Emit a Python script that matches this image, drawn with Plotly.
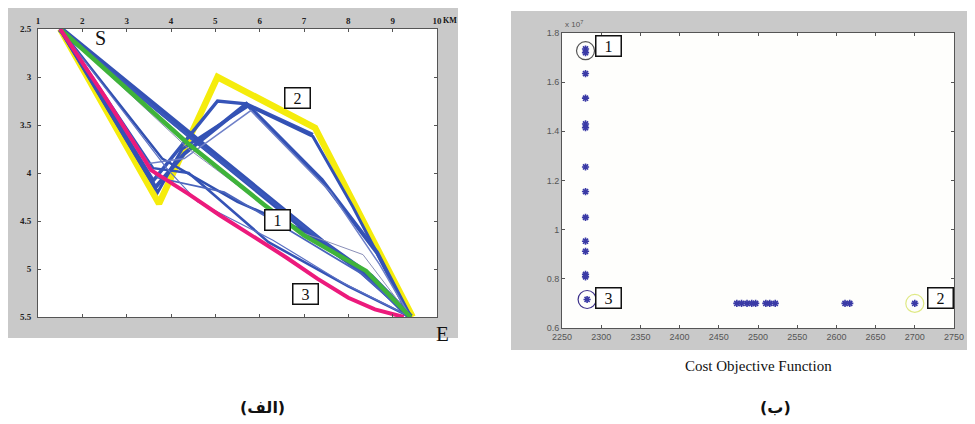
import plotly.graph_objects as go

# The page body has an 8px margin, so the figure is sized to the remaining viewport
OFF = 8
W, H = 975 - OFF, 424 - OFF

# ---------------- Panel (الف): route lines (x in KM, depth-like y) ----------------
yellow_x = [1.5, 3.73, 5.05, 7.25, 9.45]
yellow_y = [2.5, 4.32, 3.0, 3.53, 5.5]

green_x = [1.5, 4.4, 6.1, 7.0, 8.4, 9.4]
green_y = [2.5, 3.7, 4.33, 4.65, 5.02, 5.5]

magenta_x = [1.5, 2.5, 3.55, 4.4, 5.1, 5.85, 6.6, 7.3, 8.0, 8.6, 9.25]
magenta_y = [2.5, 3.2, 3.97, 4.22, 4.44, 4.66, 4.88, 5.1, 5.3, 5.42, 5.5]

blue_paths = [
    # (x list, y list, width)
    ([1.5, 4.3, 6.2, 7.4, 8.5, 9.4], [2.5, 3.55, 4.28, 4.72, 5.08, 5.5], 6.5),
    ([1.5, 4.35, 6.5, 8.0, 9.4], [2.5, 3.6, 4.38, 4.92, 5.5], 3.0),
    ([1.5, 3.8, 5.5, 6.9, 8.3, 9.4], [2.5, 3.85, 4.3, 4.58, 5.0, 5.5], 2.5),
    ([1.5, 3.6, 4.4, 6.2, 6.9, 8.0, 9.4], [2.5, 3.95, 4.0, 4.72, 4.9, 5.18, 5.5], 2.5),
    ([1.5, 3.6, 5.05, 5.7, 7.2], [2.5, 4.08, 3.25, 3.28, 3.6], 3.5),
    ([1.5, 3.7, 4.25, 5.75, 7.2, 8.1, 9.4], [2.5, 4.2, 3.75, 3.3, 3.62, 4.35, 5.5], 3.0),
    ([1.5, 3.65, 4.3, 5.7, 7.4, 8.65, 9.4], [2.5, 4.15, 3.8, 3.28, 4.07, 4.83, 5.5], 4.0),
    ([1.5, 3.5, 4.3, 5.8, 7.6, 8.7, 9.4], [2.5, 3.9, 3.85, 3.35, 4.2, 4.95, 5.5], 1.5),
    ([1.5, 3.7, 5.2, 6.5, 8.3, 9.4], [2.5, 4.05, 4.2, 4.55, 5.05, 5.5], 1.8),
    ([1.5, 4.4, 6.9, 8.33, 9.4], [2.5, 3.75, 4.61, 4.85, 5.5], 1.0),
    ([1.5, 3.9, 4.6, 6.3, 7.9, 9.4], [2.5, 3.95, 4.3, 4.7, 5.15, 5.5], 1.2),
]
blue_colors = ["#3452b4", "#3a58bb", "#3150b0", "#3553b6", "#3654b8", "#3351b4",
               "#3452b5", "#6f80c8", "#4a64bd", "#8a8fb8", "#5a70c4"]

# ---------------- Panel (ب): Pareto points ----------------
col_x = [2280, 2280, 2280, 2280, 2280, 2280, 2280, 2280, 2280, 2280, 2280, 2280, 2280, 2282]
col_y = [1.735, 1.72, 1.635, 1.535, 1.43, 1.415, 1.255, 1.155, 1.05, 0.953, 0.912, 0.818, 0.808, 0.716]
row_x = [2473, 2479, 2486, 2492, 2497, 2510, 2515, 2522, 2611, 2617, 2700]
row_y = [0.70] * 11

circ_x = [2280, 2282, 2700]
circ_y = [1.728, 0.716, 0.70]
circ_colors = ["#555555", "#3b2f8a", "#dfe985"]

left_xticks = [1, 2, 3, 4, 5, 6, 7, 8, 9, 10]
left_xlabels = ["1", "2", "3", "4", "5", "6", "7", "8", "9", "10"]
left_yticks = [2.5, 3, 3.5, 4, 4.5, 5, 5.5]
left_ylabels = ["2.5", "3", "3.5", "4", "4.5", "5", "5.5"]
right_xticks = [2250, 2300, 2350, 2400, 2450, 2500, 2550, 2600, 2650, 2700, 2750]
right_yticks = [0.6, 0.8, 1.0, 1.2, 1.4, 1.6, 1.8]
right_ylabels = ["0.6", "0.8", "1", "1.2", "1.4", "1.6", "1.8"]


def px(x):
    return (x - OFF) / W


def py(y):
    return 1 - (y - OFF) / H


fig = go.Figure()

# yellow (bottom)
fig.add_trace(go.Scatter(x=yellow_x, y=yellow_y, mode="lines",
                         line=dict(color="#f5ec0c", width=6.5), xaxis="x", yaxis="y",
                         showlegend=False, hoverinfo="skip"))
for (bx, by, bw), c in zip(blue_paths, blue_colors):
    fig.add_trace(go.Scatter(x=bx, y=by, mode="lines", line=dict(color=c, width=bw),
                             xaxis="x", yaxis="y", showlegend=False, hoverinfo="skip"))
fig.add_trace(go.Scatter(x=green_x, y=green_y, mode="lines",
                         line=dict(color="#3fb33a", width=4.5), xaxis="x", yaxis="y",
                         showlegend=False, hoverinfo="skip"))
fig.add_trace(go.Scatter(x=magenta_x, y=magenta_y, mode="lines",
                         line=dict(color="#ec1a7c", width=4), xaxis="x", yaxis="y",
                         showlegend=False, hoverinfo="skip"))

# right panel points
fig.add_trace(go.Scatter(x=col_x + row_x, y=col_y + row_y, mode="markers",
                         marker=dict(symbol="asterisk-open", size=6, color="#3a3aa6",
                                     line=dict(color="#3d3d9e", width=1.6)),
                         xaxis="x2", yaxis="y2", showlegend=False, hoverinfo="skip"))
fig.add_trace(go.Scatter(x=circ_x, y=circ_y, mode="markers",
                         marker=dict(symbol="circle-open", size=18, color=circ_colors,
                                     line=dict(color=circ_colors, width=1.2)),
                         xaxis="x2", yaxis="y2", showlegend=False, hoverinfo="skip"))

# layout geometry (pixels in the 975x424 window)
L = dict(x0=38, x1=437, y0=29, y1=317)
R = dict(x0=562, x1=954, y0=33, y1=328)

shapes = [
    dict(type="rect", xref="paper", yref="paper", x0=px(OFF), x1=px(458), y0=py(338), y1=py(OFF),
         fillcolor="#c9c9c9", line=dict(width=0), layer="below"),
    dict(type="rect", xref="paper", yref="paper", x0=px(511), x1=px(974), y0=py(350), y1=py(11),
         fillcolor="#c9c9c9", line=dict(width=0), layer="below"),
    dict(type="rect", xref="paper", yref="paper", x0=px(L["x0"]), x1=px(L["x1"]), y0=py(L["y1"]), y1=py(L["y0"]),
         fillcolor="white", line=dict(width=0), layer="below"),
    dict(type="rect", xref="paper", yref="paper", x0=px(R["x0"]), x1=px(R["x1"]), y0=py(R["y1"]), y1=py(R["y0"]),
         fillcolor="#fefefc", line=dict(width=0), layer="below"),
]

serif_bold = dict(family="Liberation Serif", size=9, color="#222")
sans = dict(family="Liberation Sans", size=9, color="#555")

axis_common = dict(showgrid=False, zeroline=False, showline=True, linecolor="#555", linewidth=1,
                   mirror="ticks", ticks="inside", ticklen=3, tickcolor="#555", automargin=False)

fig.update_layout(
    width=W, height=H, margin=dict(l=0, r=0, t=0, b=0, pad=0),
    paper_bgcolor="white", plot_bgcolor="rgba(0,0,0,0)",
    shapes=shapes,
    xaxis=dict(domain=[px(L["x0"]), px(L["x1"])], range=[1, 10], side="top",
               tickvals=left_xticks, ticktext=[f"<b>{t}</b>" for t in left_xlabels],
               tickfont=serif_bold, **axis_common),
    yaxis=dict(domain=[py(L["y1"]), py(L["y0"])], range=[5.5, 2.5],
               tickvals=left_yticks, ticktext=[f"<b>{t}</b>" for t in left_ylabels],
               tickfont=serif_bold, ticklabelstandoff=4, **axis_common),
    xaxis2=dict(domain=[px(R["x0"]), px(R["x1"])], range=[2250, 2750], anchor="y2",
                tickvals=right_xticks, tickfont=sans, **axis_common),
    yaxis2=dict(domain=[py(R["y1"]), py(R["y0"])], range=[0.6, 1.8], anchor="x2",
                tickvals=right_yticks, ticktext=right_ylabels, tickfont=sans, **axis_common),
)


def box(text, cx, cy):
    return dict(xref="paper", yref="paper", x=px(cx), y=py(cy), text=text, showarrow=False,
                font=dict(family="Liberation Serif", size=16, color="#111"),
                bgcolor="white", bordercolor="#111", borderwidth=1.5, borderpad=2,
                width=20, height=15, xanchor="center", yanchor="middle")


def label(text, cx, cy, size, family="Liberation Serif", color="#111"):
    return dict(xref="paper", yref="paper", x=px(cx), y=py(cy), text=text, showarrow=False,
                font=dict(family=family, size=size, color=color), xanchor="center", yanchor="middle")


annotations = [
    box("1", 277, 220), box("2", 297, 98), box("3", 305, 294),
    box("1", 608, 46), box("3", 608, 298), box("2", 940, 298),
    label("S", 100, 38, 20),
    label("E", 442, 334, 21),
    label("<b>KM</b>", 450, 20, 8),
    label("x 10<sup>7</sup>", 574, 24, 8, family="Liberation Sans", color="#555"),
    label("Cost Objective Function", 758, 366, 15),
    label("<b>(الف)</b>", 262, 407, 16, family="DejaVu Sans"),
    label("<b>(ب)</b>", 775, 407, 16, family="DejaVu Sans"),
]
fig.update_layout(annotations=annotations)

fig.write_html("out.html")
